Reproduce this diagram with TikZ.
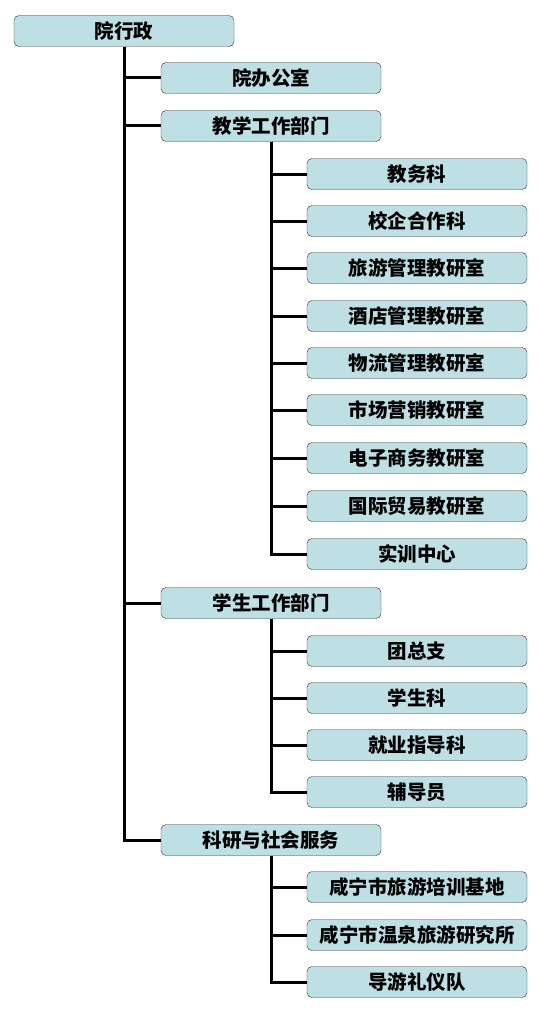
\documentclass[tikz,border=0pt]{standalone}
\usepackage{fontspec}
\newfontfamily\cjk{Noto Sans CJK SC}
\usetikzlibrary{positioning}

\definecolor{boxfill}{RGB}{190,224,228}

\begin{document}
\begin{tikzpicture}[x=1pt,y=-1pt,
every node/.style={draw=black!80,fill=boxfill,rounded corners=5pt,
minimum width=220pt,minimum height=31pt,inner sep=0,
font=\cjk\bfseries\fontsize{19.5}{19.5}\selectfont},
link/.style={line width=3pt}]
\useasboundingbox (0,0) rectangle (538,1014);
\node (root) at (124,31) {院行政};

\node (office) at (271,78) {院办公室};
\node (teach) at (271,126) {教学工作部门};
\node (stu) at (271,603) {学生工作部门};
\node (sci) at (271,840) {科研与社会服务};

% teaching
\node (t1) at (417,174) {教务科};
\node (t2) at (417,221) {校企合作科};
\node (t3) at (417,268) {旅游管理教研室};
\node (t4) at (417,316) {酒店管理教研室};
\node (t5) at (417,363) {物流管理教研室};
\node (t6) at (417,410) {市场营销教研室};
\node (t7) at (417,458) {电子商务教研室};
\node (t8) at (417,506) {国际贸易教研室};
\node (t9) at (417,554) {实训中心};

% students
\node (s1) at (417,651) {团总支};
\node (s2) at (417,698) {学生科};
\node (s3) at (417,745) {就业指导科};
\node (s4) at (417,792) {辅导员};

% research
\node (r1) at (417,887) {咸宁市旅游培训基地};
\node (r2) at (417,935) {咸宁市温泉旅游研究所};
\node (r3) at (417,982) {导游礼仪队};

\foreach \c in {office,teach,stu,sci}
  \draw[link] (root.south) |- (\c.west);
\foreach \c in {t1,t2,t3,t4,t5,t6,t7,t8,t9}
  \draw[link] (teach.south) |- (\c.west);
\foreach \c in {s1,s2,s3,s4}
  \draw[link] (stu.south) |- (\c.west);
\foreach \c in {r1,r2,r3}
  \draw[link] (sci.south) |- (\c.west);
\end{tikzpicture}
\end{document}
